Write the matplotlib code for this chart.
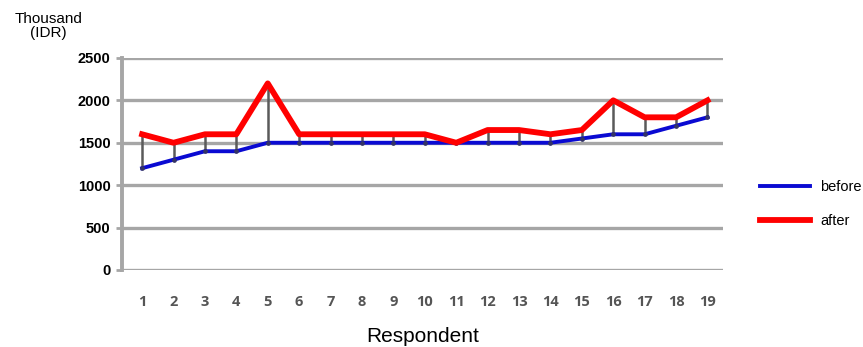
import matplotlib
matplotlib.use('Agg')
import matplotlib.pyplot as plt

respondents = list(range(1, 20))
before = [1200, 1300, 1400, 1400, 1500, 1500, 1500, 1500, 1500, 1500,
          1500, 1500, 1500, 1500, 1550, 1600, 1600, 1700, 1800]
after = [1600, 1500, 1600, 1600, 2200, 1600, 1600, 1600, 1600, 1600,
         1500, 1650, 1650, 1600, 1650, 2000, 1800, 1800, 2000]
y_ticks = [0, 500, 1000, 1500, 2000, 2500]

plt.rcParams['font.family'] = ['Liberation Sans', 'DejaVu Sans']

fig = plt.figure(figsize=(8.63, 3.47), dpi=100)
ax = fig.add_axes([0.141, 0.222, 0.697, 0.611])

grid_color = '#a6a6a6'
for y in y_ticks:
    ax.axhline(y, color=grid_color, lw=2.4, zorder=1)

# high-low style connectors between the two series
ax.vlines(respondents, before, after, color='#5a5a5a', lw=1.8, zorder=2)

ax.plot(respondents, before, color='#0a0ad2', lw=2.8, label='before', zorder=3)
ax.plot(respondents, before, ls='none', marker='o', ms=2.4,
        mfc='#333366', mec='#333366', zorder=3)
ax.plot(respondents, after, color='#ff0000', lw=4.2, label='after', zorder=4)

ax.set_xlim(0.35, 19.5)
ax.set_ylim(0, 2500)
ax.set_xticks(respondents)
ax.set_xticklabels([str(r) for r in respondents], fontsize=10.5, fontweight='bold',
                   color='#555555', family=['Open Sans'])
ax.set_yticks(y_ticks)
ax.set_yticklabels([str(v) for v in y_ticks], fontsize=10.5, fontweight='bold')
ax.tick_params(axis='x', length=0, pad=18)
ax.tick_params(axis='y', length=4, width=2, color=grid_color, pad=4)

for side in ['top', 'right', 'bottom']:
    ax.spines[side].set_visible(False)
ax.spines['left'].set_color(grid_color)
ax.spines['left'].set_linewidth(2.8)

ax.set_xlabel('Respondent', fontsize=15, labelpad=13)
fig.text(0.056, 0.925, 'Thousand\n(IDR)', fontsize=11, ha='center', va='center',
         linespacing=1.05)

ax.legend(loc='center left', bbox_to_anchor=(1.04, 0.31), frameon=False,
          fontsize=10.5, handlelength=3.4, labelspacing=1.4, handletextpad=0.7)

fig.savefig('out.png', dpi=100)
